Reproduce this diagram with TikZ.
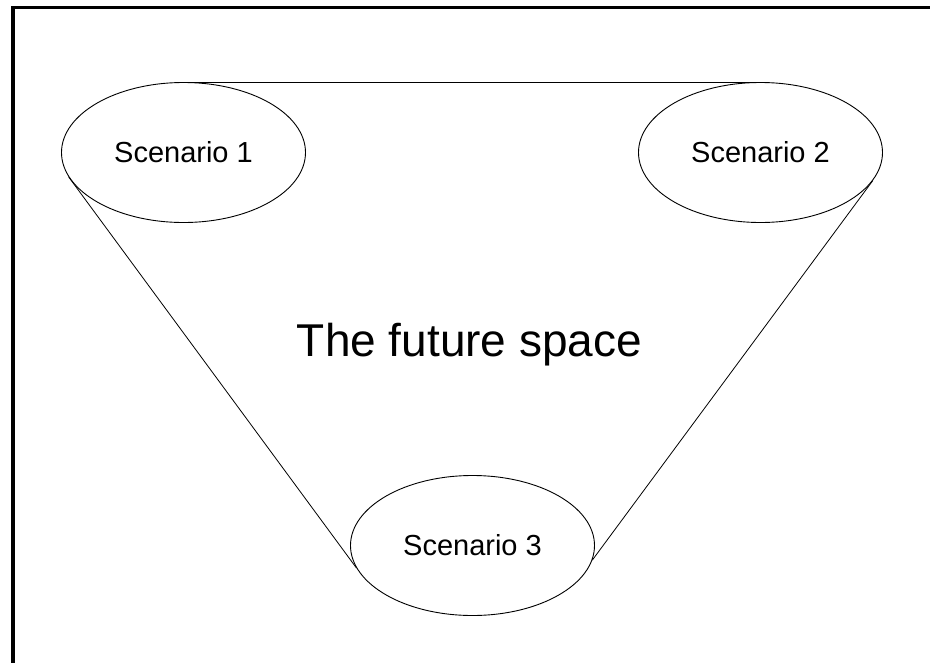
\documentclass[tikz,border=0pt]{standalone}
\usepackage{fontspec}
\setmainfont{Liberation Sans}
\usetikzlibrary{shapes.geometric}
\begin{document}
\begin{tikzpicture}[x=1pt,y=-1pt,
  scenario/.style={ellipse, draw, line width=0.9pt, minimum width=244pt,
    minimum height=140pt, inner sep=0pt, font=\fontsize{29}{34}\selectfont},
  link/.style={line width=0.8pt},
  frame/.style={line width=3.5pt}]
  \useasboundingbox (0,0) rectangle (930,662);
  % outer frame: only its top and left sides fall inside the page
  \draw[frame] (13,700) -- (13,7.5) -- (940,7.5);
  % the three scenarios
  \node[scenario] (s1) at (183.5,152.5) {Scenario 1};
  \node[scenario] (s2) at (760.5,152.5) {Scenario 2};
  \node[scenario] (s3) at (472.5,545.5) {Scenario 3};
  % outline of the space spanned by them
  \draw[link] (s1.north) -- (s2.north);
  \draw[link] (s1.192) -- (s3.191);
  \draw[link] (s3.353) -- (s2.346);
  % title in the middle
  \node[anchor=base, font=\fontsize{46}{55}\selectfont] (title) at (469.5,356) {The future space};
\end{tikzpicture}
\end{document}
